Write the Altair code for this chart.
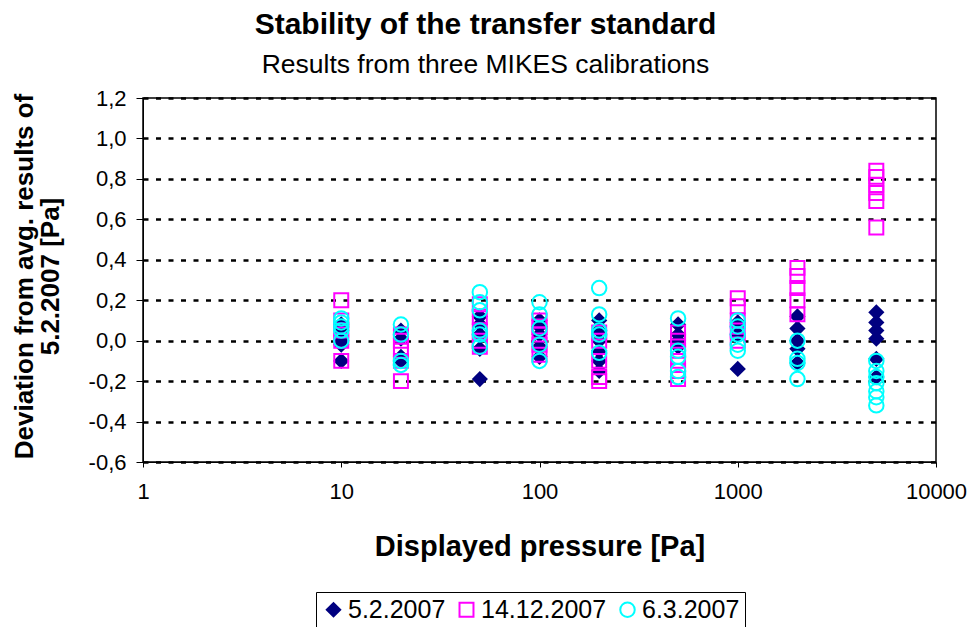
import altair as alt
import pandas as pd

pressures = [10, 20, 50, 100, 200, 500, 1000, 2000, 5000]
series_names = ["5.2.2007", "14.12.2007", "6.3.2007"]

# deviations [Pa] per pressure point, one list per pressure
feb2007 = [
    [-0.10, -0.02, 0.00, 0.05, 0.08],
    [-0.10, -0.08, 0.01, 0.05],
    [-0.19, -0.04, 0.03, 0.08, 0.12],
    [-0.08, -0.03, 0.03, 0.07, 0.10],
    [-0.15, -0.10, -0.05, 0.00, 0.05, 0.10],
    [-0.03, 0.00, 0.03, 0.08],
    [-0.14, 0.03, 0.07, 0.09],
    [-0.11, -0.04, 0.00, 0.06, 0.12],
    [-0.18, -0.09, 0.01, 0.05, 0.09, 0.14],
]
dec2007 = [
    [-0.10, 0.00, 0.05, 0.10, 0.20],
    [-0.20, -0.10, -0.05, 0.00, 0.03],
    [-0.03, 0.00, 0.05, 0.12, 0.18],
    [-0.07, -0.02, 0.03, 0.07, 0.10],
    [-0.20, -0.18, -0.10, 0.00, 0.04],
    [-0.19, -0.15, -0.10, -0.05, 0.00, 0.04],
    [0.00, 0.05, 0.10, 0.17, 0.21],
    [0.13, 0.20, 0.26, 0.32, 0.36],
    [0.56, 0.69, 0.73, 0.77, 0.81, 0.84],
]
mar2007 = [
    [0.00, 0.05, 0.07, 0.09, 0.11],
    [-0.12, -0.10, 0.03, 0.08],
    [-0.03, 0.03, 0.05, 0.15, 0.19, 0.24],
    [-0.10, -0.02, 0.06, 0.13, 0.19],
    [-0.06, 0.03, 0.05, 0.13, 0.26],
    [-0.18, -0.15, -0.08, -0.05, 0.11],
    [-0.05, -0.02, 0.03, 0.07, 0.10],
    [-0.19, -0.11, -0.09, 0.00],
    [-0.32, -0.28, -0.25, -0.21, -0.18, -0.15, -0.10],
]

y_ticks = [-0.6, -0.4, -0.2, 0.0, 0.2, 0.4, 0.6, 0.8, 1.0, 1.2]
x_ticks = [1, 10, 100, 1000, 10000]

rows = []
for k, (name, series) in enumerate(zip(series_names, [feb2007, dec2007, mar2007])):
    for p, vals in zip(pressures, series):
        for v in vals:
            rows.append({"series": name, "pressure": p, "dev": v, "k": k})
df = pd.DataFrame(rows)

FONT = "Liberation Sans"

legend = alt.Legend(title=None, orient="none", legendX=173, legendY=494,
                    direction="horizontal", strokeColor="black",
                    padding=5, labelFontSize=25, labelColor="black",
                    symbolSize=230, symbolStrokeWidth=2,
                    labelOffset=2, columnPadding=8)

chart = alt.Chart(df).mark_point(filled=False, opacity=1, strokeWidth=2).encode(
    x=alt.X("pressure:Q",
            scale=alt.Scale(type="log", domain=[1, 10000], nice=False),
            axis=alt.Axis(values=x_ticks, labelExpr="format(datum.value, 'd')",
                          title="Displayed pressure [Pa]", grid=False,
                          tickColor="black", domainColor="black", tickSize=5,
                          labelFontSize=22, labelPadding=14, labelColor="black",
                          titleFontSize=29, titleFontWeight="bold", titleColor="black",
                          titlePadding=30, labelFlush=False)),
    y=alt.Y("dev:Q",
            scale=alt.Scale(domain=[-0.6, 1.2], nice=False, zero=False),
            axis=alt.Axis(values=y_ticks,
                          labelExpr="replace(replace(format(datum.value, '.1f'), '.', ','), '\u2212', '-')",
                          title=["Deviation from avg. results of", "5.2.2007 [Pa]"],
                          grid=True, gridColor="black", gridDash=[5, 7.5], gridWidth=2.5,
                          tickColor="black", domainColor="black", tickSize=7,
                          labelFontSize=22, labelPadding=10, labelColor="black",
                          titleFontSize=26, titleFontWeight="bold", titleColor="black",
                          titleAngle=-90, titleX=-119, titleY=178,
                          titleAlign="center", titleBaseline="middle",
                          titleLineHeight=26)),
    color=alt.Color("series:N", scale=alt.Scale(domain=series_names,
                    range=["#000080", "#FF00FF", "#00FFFF"]), legend=legend),
    shape=alt.Shape("series:N", scale=alt.Scale(domain=series_names,
                    range=["diamond", "square", "circle"]), legend=legend),
    fill=alt.Fill("series:N", scale=alt.Scale(domain=series_names,
                  range=["#000080", "#ffffff00", "#ffffff00"]), legend=legend),
    size=alt.Size("series:N", scale=alt.Scale(domain=series_names,
                  range=[180, 210, 270]), legend=None),
    order=alt.Order("k:Q"),
).properties(
    width=793, height=364,
    title=alt.TitleParams(text="Stability of the transfer standard",
                          subtitle="Results from three MIKES calibrations",
                          anchor="middle", dx=-54, fontSize=30, fontWeight="bold",
                          subtitleFontSize=26.5, color="black", subtitleColor="black",
                          subtitlePadding=12, offset=9, font=FONT, subtitleFont=FONT),
    autosize=alt.AutoSizeParams(type="none"),
    padding={"left": 143, "top": 98, "right": 38, "bottom": 165},
).configure(font=FONT).configure_view(stroke="black", strokeWidth=1.5
).configure_axis(labelFont=FONT, titleFont=FONT).configure_legend(labelFont=FONT)

chart.save("out.html", embed_options={"renderer": "svg", "actions": False})
